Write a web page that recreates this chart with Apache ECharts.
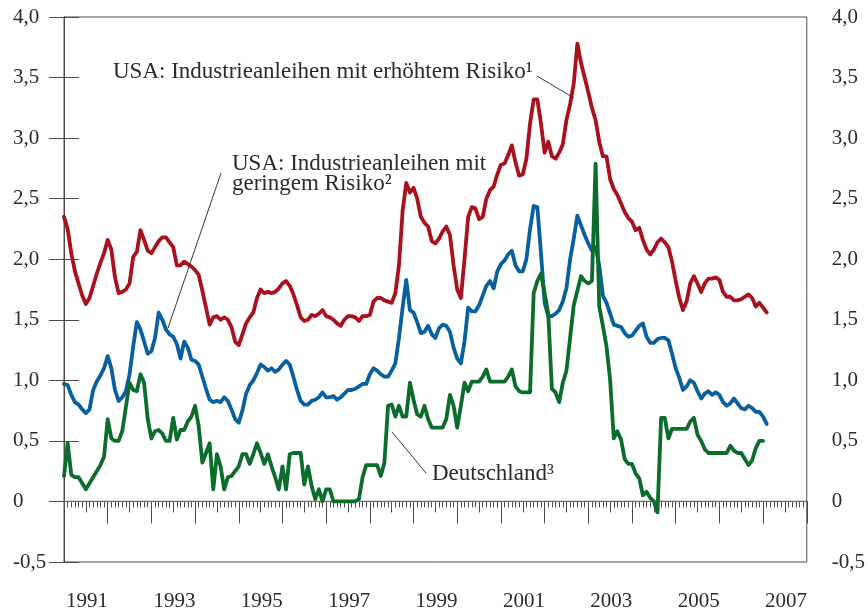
<!DOCTYPE html>
<html><head><meta charset="utf-8">
<script src="https://cdn.jsdelivr.net/npm/echarts@6/dist/echarts.min.js"></script>
<style>html,body{margin:0;padding:0;background:#fff}#c{width:868px;height:612px}</style>
</head><body><div id="c"></div>
<script>
// months counted from January 1991 (index 0)
const startYear = 1991;
const axisMonths = 204; // Jan 1991 .. Dec 2007
const yMin = -0.5, yMax = 4.0, yStep = 0.5;

// USA: Industrieanleihen mit erhöhtem Risiko (1)
const usaHighRisk = [
 2.35,2.25,2.05,1.90,1.80,1.70,1.63,1.68,1.78,1.88,
 1.97,2.05,2.16,2.08,1.85,1.72,1.73,1.75,1.80,2.02,
 2.06,2.24,2.16,2.07,2.05,2.10,2.15,2.18,2.18,2.14,
 2.10,1.95,1.95,1.98,1.96,1.94,1.91,1.87,1.74,1.60,
 1.46,1.52,1.53,1.50,1.52,1.50,1.44,1.32,1.29,1.38,
 1.47,1.52,1.56,1.68,1.75,1.72,1.73,1.72,1.73,1.76,
 1.80,1.82,1.78,1.71,1.62,1.52,1.49,1.50,1.54,1.53,
 1.55,1.58,1.53,1.52,1.50,1.47,1.45,1.50,1.53,1.53,
 1.52,1.49,1.53,1.53,1.54,1.65,1.68,1.68,1.66,1.65,
 1.64,1.72,1.95,2.40,2.63,2.55,2.59,2.50,2.35,2.30,
 2.27,2.15,2.13,2.17,2.23,2.27,2.20,1.95,1.75,1.68,
 2.00,2.35,2.43,2.42,2.33,2.35,2.50,2.57,2.60,2.70,
 2.78,2.79,2.86,2.94,2.80,2.69,2.70,2.83,3.12,3.32,
 3.32,3.12,2.88,2.97,2.85,2.83,2.88,2.95,3.15,3.28,
 3.45,3.78,3.62,3.50,3.38,3.25,3.15,2.97,2.85,2.85,
 2.66,2.58,2.53,2.46,2.39,2.34,2.31,2.24,2.26,2.16,
 2.08,2.04,2.08,2.14,2.17,2.14,2.10,1.98,1.82,1.68,
 1.58,1.65,1.80,1.86,1.80,1.73,1.80,1.84,1.84,1.85,
 1.83,1.73,1.69,1.69,1.66,1.66,1.67,1.69,1.71,1.68,
 1.61,1.64,1.60,1.56
];

// USA: Industrieanleihen mit geringem Risiko (2)
const usaLowRisk = [
 0.97,0.96,0.88,0.82,0.80,0.76,0.73,0.76,0.92,0.99,
 1.04,1.10,1.20,1.10,0.92,0.83,0.86,0.91,1.05,1.28,
 1.48,1.42,1.32,1.22,1.24,1.35,1.56,1.50,1.42,1.38,
 1.36,1.30,1.18,1.32,1.27,1.17,1.16,1.13,1.03,0.93,
 0.84,0.82,0.83,0.82,0.86,0.83,0.76,0.68,0.65,0.75,
 0.89,0.96,1.00,1.06,1.13,1.11,1.08,1.10,1.07,1.09,
 1.13,1.16,1.13,1.03,0.92,0.83,0.80,0.80,0.83,0.84,
 0.86,0.90,0.86,0.86,0.87,0.84,0.86,0.89,0.92,0.92,
 0.93,0.95,0.97,0.97,1.05,1.10,1.08,1.05,1.03,1.03,
 1.08,1.14,1.35,1.60,1.83,1.58,1.56,1.48,1.39,1.40,
 1.45,1.38,1.35,1.43,1.46,1.45,1.40,1.27,1.18,1.14,
 1.32,1.60,1.57,1.57,1.62,1.70,1.78,1.82,1.76,1.90,
 1.96,1.99,2.04,2.07,1.95,1.90,1.90,2.00,2.25,2.44,
 2.43,2.05,1.64,1.53,1.53,1.55,1.58,1.65,1.76,2.00,
 2.17,2.36,2.28,2.20,2.13,2.07,2.10,1.95,1.70,1.64,
 1.55,1.46,1.45,1.44,1.39,1.36,1.37,1.41,1.45,1.47,
 1.36,1.31,1.31,1.34,1.35,1.35,1.33,1.22,1.10,1.02,
 0.92,0.95,1.00,0.98,0.91,0.85,0.89,0.91,0.88,0.90,
 0.88,0.82,0.79,0.81,0.85,0.81,0.77,0.76,0.79,0.77,
 0.74,0.74,0.70,0.64
];

// Deutschland (3)
const germany = [
 0.21,0.48,0.22,0.20,0.20,0.15,0.10,0.15,0.20,0.25,
 0.30,0.37,0.68,0.52,0.50,0.50,0.58,0.78,0.98,0.92,
 0.91,1.05,0.98,0.68,0.52,0.58,0.59,0.56,0.50,0.50,
 0.69,0.51,0.59,0.59,0.66,0.70,0.79,0.62,0.32,0.40,
 0.48,0.10,0.39,0.29,0.10,0.20,0.21,0.25,0.29,0.39,
 0.39,0.31,0.39,0.48,0.40,0.31,0.39,0.29,0.20,0.10,
 0.29,0.10,0.39,0.40,0.40,0.40,0.14,0.29,0.13,0.02,
 0.10,0.00,0.10,0.10,0.00,0.00,0.00,0.00,0.00,0.00,
 0.00,0.02,0.20,0.30,0.30,0.30,0.30,0.21,0.32,0.79,
 0.80,0.70,0.79,0.70,0.70,0.98,0.84,0.72,0.70,0.79,
 0.68,0.61,0.61,0.61,0.61,0.68,0.88,0.79,0.61,0.79,
 0.98,0.91,0.99,0.99,0.99,1.03,1.09,0.99,0.99,0.99,
 0.99,0.99,1.03,1.09,0.95,0.91,0.90,0.90,0.90,1.72,
 1.82,1.88,1.72,1.55,0.93,0.90,0.82,0.98,1.08,1.35,
 1.62,1.74,1.86,1.82,1.80,1.82,2.79,1.61,1.45,1.28,
 1.00,0.52,0.58,0.51,0.35,0.31,0.31,0.23,0.19,0.05,
 0.08,0.03,0.00,-0.09,0.69,0.69,0.52,0.60,0.60,0.60,
 0.60,0.60,0.66,0.69,0.55,0.50,0.43,0.40,0.40,0.40,
 0.40,0.40,0.40,0.46,0.42,0.40,0.40,0.35,0.30,0.34,
 0.44,0.50,0.50
];

const labelHigh = 'USA: Industrieanleihen mit erhöhtem Risiko¹';
const labelLow = 'USA: Industrieanleihen mit\ngeringem Risiko²';
const labelDe = 'Deutschland³';

const FONT = "'Liberation Serif','Times New Roman',serif";
const TXT = '#2b2b2b';
const AX = '#4a4a4a';

const toPairs = arr => arr.map((v, i) => [i, v]);
const yFmt = v => (Math.abs(v) < 1e-9 ? '0' : v.toFixed(1).replace('.', ','));

const chart = echarts.init(document.getElementById('c'), null, {renderer: 'canvas'});
const lineSeries = (name, data, color) => ({
  name, type: 'line', data: toPairs(data), xAxisIndex: 0, yAxisIndex: 0,
  showSymbol: false, symbol: 'none', smooth: false, animation: false, silent: true,
  lineStyle: {color, width: 3.8, join: 'round', cap: 'round'}
});

chart.setOption({
  animation: false,
  backgroundColor: '#fff',
  grid: {left: 64, right: 56, top: 17, bottom: 49, show: true, borderColor: AX, borderWidth: 1, backgroundColor: 'transparent'},
  xAxis: [{
    type: 'value', min: 0, max: axisMonths, interval: 12,
    axisLine: {show: true, lineStyle: {color: AX, width: 1}},
    axisTick: {show: true, inside: false, length: 22, lineStyle: {color: AX, width: 1}},
    minorTick: {show: true, splitNumber: 12, length: 6, lineStyle: {color: AX, width: 1}},
    splitLine: {show: false}, minorSplitLine: {show: false},
    axisLabel: {
      show: true, showMaxLabel: false, margin: 29, align: 'left', padding: [0, 0, 0, 2],
      fontFamily: FONT, fontSize: 21, color: TXT,
      formatter: v => ((v % 24 === 0 && v < axisMonths) ? String(startYear + v / 12) : '')
    }
  }, {
    type: 'value', min: 0, max: axisMonths, interval: 6, position: 'bottom',
    axisLine: {show: false},
    axisTick: {show: true, inside: false, length: 11, lineStyle: {color: AX, width: 1}},
    axisLabel: {show: false}, splitLine: {show: false}
  }],
  yAxis: [{
    type: 'value', min: yMin, max: yMax, interval: yStep, position: 'left',
    axisLine: {show: true, lineStyle: {color: AX, width: 1}},
    axisTick: {show: true, inside: true, length: 15, lineStyle: {color: AX, width: 1}},
    splitLine: {show: false},
    axisLabel: {align: 'left', margin: 51, fontFamily: FONT, fontSize: 21, color: TXT, formatter: yFmt}
  }, {
    type: 'value', min: yMin, max: yMax, interval: yStep, position: 'right',
    axisLine: {show: true, lineStyle: {color: AX, width: 1}},
    axisTick: {show: true, inside: true, length: 15, lineStyle: {color: AX, width: 1}},
    splitLine: {show: false},
    axisLabel: {align: 'left', margin: 25, fontFamily: FONT, fontSize: 21, color: TXT, formatter: yFmt}
  }],
  series: [
    {type: 'line', data: [[0, 0], [axisMonths, 0]], symbol: 'none', silent: true, animation: false,
     lineStyle: {color: '#6a6a6a', width: 1.2}, z: 1},
    Object.assign(lineSeries('USA hoch', usaHighRisk, '#A8111D'), {z: 3}),
    Object.assign(lineSeries('USA gering', usaLowRisk, '#0860A0'), {z: 3}),
    Object.assign(lineSeries('Deutschland', germany, '#0B6C2C'), {z: 3})
  ],
  graphic: [
    {type: 'line', shape: {x1: 537, y1: 76, x2: 574, y2: 98}, style: {stroke: '#222', lineWidth: 0.9}, z: 10},
    {type: 'line', shape: {x1: 221, y1: 173, x2: 168, y2: 328}, style: {stroke: '#222', lineWidth: 0.9}, z: 10},
    {type: 'line', shape: {x1: 392, y1: 432, x2: 426, y2: 473}, style: {stroke: '#222', lineWidth: 0.9}, z: 10},
    {type: 'text', left: 113, top: 60, z: 10,
     style: {text: labelHigh, font: "23px " + FONT, fill: TXT}},
    {type: 'text', left: 232, top: 152, z: 10,
     style: {text: labelLow, font: "23px " + FONT, fill: TXT, lineHeight: 20}},
    {type: 'text', left: 432, top: 462, z: 10,
     style: {text: labelDe, font: "23px " + FONT, fill: TXT}}
  ]
});
</script>
</body></html>
